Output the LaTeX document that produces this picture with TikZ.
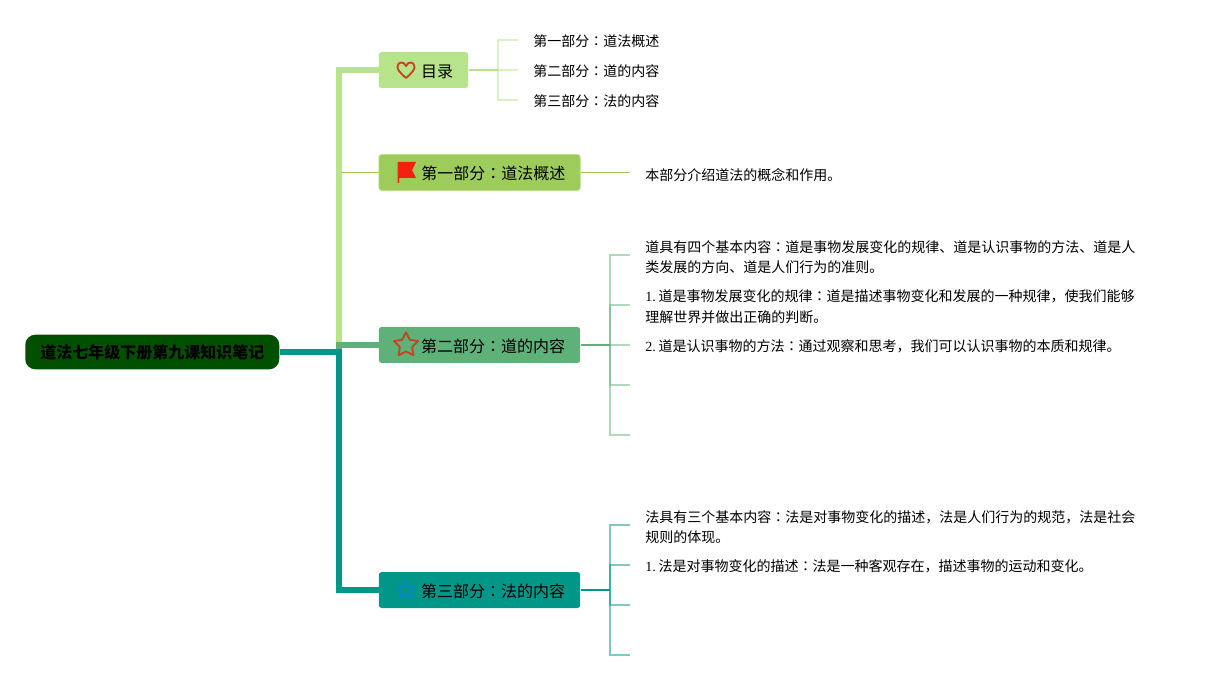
\documentclass[tikz,border=0pt]{standalone}
\usepackage{fontspec}
\setmainfont{Liberation Serif}
\newfontfamily\cjk{Noto Sans CJK SC}
\newfontfamily\cjktc{Noto Sans CJK TC}
\newcommand{\mh}{{\cjktc ：}}
\newcommand{\num}[1]{#1.\hspace{2.1pt}}
\usetikzlibrary{positioning,calc,shapes.geometric}
\definecolor{rootgreen}{RGB}{0,80,0}
\definecolor{catgreen}{RGB}{183,227,138}
\definecolor{onegreen}{RGB}{157,204,90}
\definecolor{twogreen}{RGB}{95,177,122}
\definecolor{threeteal}{RGB}{0,150,136}
\definecolor{iconred}{RGB}{196,68,36}
\definecolor{flagred}{RGB}{245,32,15}
\definecolor{iconblue}{RGB}{10,132,200}

\begin{document}
\begin{tikzpicture}[
    x=0.75pt, y=-0.75pt,
    rootnode/.style = {anchor=west, fill=rootgreen, rounded corners=7.5pt, inner xsep=11.25pt, inner ysep=0pt,
      minimum height=25.9pt, font=\cjk\bfseries\fontsize{12}{14}\selectfont},
    mainbox/.style = {anchor=west, rounded corners=2.2pt, inner xsep=11.25pt, inner ysep=0pt, minimum height=27pt,
      font=\cjk\fontsize{12}{14}\selectfont, execute at begin node={\hspace*{20.6pt}\rule{0pt}{12.1pt}}},
    leaf/.style = {anchor=west, inner xsep=11.25pt, inner ysep=0pt, align=left,
      font=\fontsize{10.5}{15.5}\selectfont, execute at begin node={\rule{0pt}{#1}}},
    leaf/.default = 10.8pt,
    trunk/.style = {line width=4.5pt},
    stub/.style = {line width=1.5pt},
    twig/.style = {line width=1.1pt, opacity=0.5}
  ]
  \useasboundingbox (0,0) rectangle (1205,680);

  % 根节点
  \node[rootnode] (root) at (25,352) {道法七年级下册第九课知识笔记};
  \coordinate (hub) at (339,352);

  % 四个分支
  \node[mainbox, fill=catgreen] (mulu) at (378.5,70) {目录};
  \node[mainbox, fill=onegreen, draw=catgreen, line width=0.5pt] (one) at (378.5,172.5) {第一部分\mh 道法概述};
  \node[mainbox, fill=twogreen] (two) at (378.5,345) {第二部分\mh 道的内容};
  \node[mainbox, fill=threeteal] (three) at (378.5,590) {第三部分\mh 法的内容};

  \draw[line width=1.1pt, onegreen] (hub) |- (one.west);
  \draw[trunk, catgreen] (hub) |- (mulu.west);
  \draw[trunk, twogreen] (hub) |- (two.west);
  \draw[trunk, threeteal] (root.east) -- (hub) |- (three.west);

  % 图标
  \draw[iconred, line width=1.4pt, line join=round] (406,78) .. controls (400,73) and (397,69) .. (397.5,66.5)
    .. controls (398,61.5) and (404,61) .. (406,66) .. controls (408,61) and (414,61.5) .. (414.5,66.5)
    .. controls (415,69) and (412,73) .. (406,78) -- cycle;
  \fill[flagred] (397.5,162) -- (416,162) -- (412,170) -- (416,178) -- (399,178) -- (399,183) -- (397.5,183) -- cycle;
  \node[star, star points=5, star point ratio=1.95, draw=iconred, line width=1.4pt, line join=round,
    minimum size=19pt, inner sep=0pt] (startwo) at (406,345) {};
  \node[star, star points=5, star point ratio=1.95, draw=iconblue, line width=1.3pt, line join=round,
    minimum size=14pt, inner sep=0pt] (starthree) at (406,590) {};

  % 目录
  \coordinate (jm) at (498,70);
  \node[leaf] (m1) at (518,40) {{\cjk 第一部分\mh 道法概述}};
  \node[leaf] (m2) at (518,70) {{\cjk 第二部分\mh 道的内容}};
  \node[leaf] (m3) at (518,100) {{\cjk 第三部分\mh 法的内容}};
  \draw[stub, catgreen] (mulu.east) -- (jm);
  \draw[twig, catgreen] (jm) |- (m1.west);
  \draw[twig, catgreen] (jm) -- (m2.west);
  \draw[twig, catgreen] (jm) |- (m3.west);

  % 第一部分
  \node[leaf=12.3pt] (o1) at (630,172.5) {{\cjk 本部分介绍道法的概念和作用。}};
  \draw[line width=0.8pt, onegreen] (one.east) -- (o1.west);

  % 第二部分
  \coordinate (jt) at (610,345);
  \node[leaf=27.4pt] (t1) at (630,255) {{\cjk 道具有四个基本内容\mh 道是事物发展变化的规律、道是认识事物的方法、道是人}\\{\cjk 类发展的方向、道是人们行为的准则。}};
  \node[leaf=27.4pt] (t2) at (630,305) {\num{1}{\cjk 道是事物发展变化的规律\mh 道是描述事物变化和发展的一种规律，使我们能够}\\{\cjk 理解世界并做出正确的判断。}};
  \node[leaf] (t3) at (630,345) {\num{2}{\cjk 道是认识事物的方法\mh 通过观察和思考，我们可以认识事物的本质和规律。}};
  \coordinate (t4) at (630,385);
  \coordinate (t5) at (630,435);
  \draw[stub, twogreen] (two.east) -- (jt);
  \draw[twig, twogreen] (jt) |- (t1.west);
  \draw[twig, twogreen] (jt) |- (t2.west);
  \draw[twig, twogreen] (jt) -- (t3.west);
  \draw[twig, twogreen] (jt) |- (t4);
  \draw[twig, twogreen] (jt) |- (t5);

  % 第三部分
  \coordinate (jf) at (610,590);
  \node[leaf=27.4pt] (f1) at (630,525) {{\cjk 法具有三个基本内容\mh 法是对事物变化的描述，法是人们行为的规范，法是社会}\\{\cjk 规则的体现。}};
  \node[leaf] (f2) at (630,565) {\num{1}{\cjk 法是对事物变化的描述\mh 法是一种客观存在，描述事物的运动和变化。}};
  \coordinate (f3) at (630,605);
  \coordinate (f4) at (630,655);
  \draw[stub, threeteal] (three.east) -- (jf);
  \draw[twig, threeteal] (jf) |- (f1.west);
  \draw[twig, threeteal] (jf) |- (f2.west);
  \draw[twig, threeteal] (jf) |- (f3);
  \draw[twig, threeteal] (jf) |- (f4);
\end{tikzpicture}
\end{document}
